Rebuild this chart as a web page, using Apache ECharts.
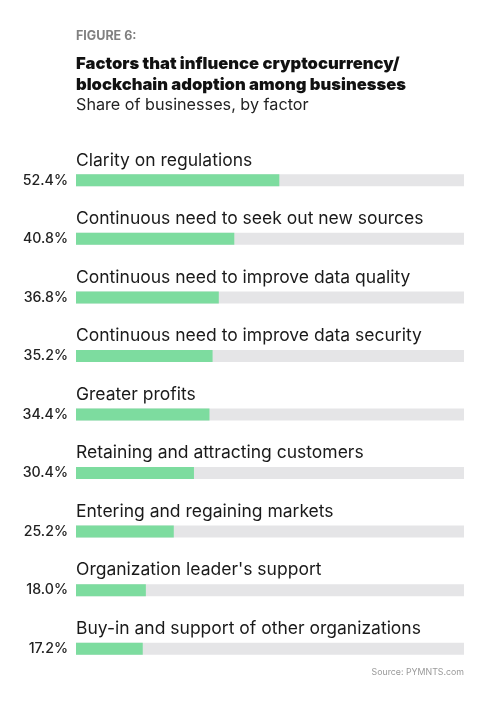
<!DOCTYPE html>
<html>
<head>
<meta charset="utf-8">
<script src="https://cdn.jsdelivr.net/npm/echarts@6/dist/echarts.min.js"></script>
<style>
  html, body { margin: 0; padding: 0; background: #fff; }
  #chart { width: 496px; height: 712px; }
</style>
</head>
<body>
<div id="chart"></div>
<script>
// factors, top to bottom
const factors = [
  "Clarity on regulations",
  "Continuous need to seek out new sources",
  "Continuous need to improve data quality",
  "Continuous need to improve data security",
  "Greater profits",
  "Retaining and attracting customers",
  "Entering and regaining markets",
  "Organization leader's support",
  "Buy-in and support of other organizations"
];
const shares = [52.4, 40.8, 36.8, 35.2, 34.4, 30.4, 25.2, 18.0, 17.2];

const font = "Inter, 'Noto Sans', sans-serif";

let chart = echarts.init(document.getElementById("chart"));
chart.setOption({
  backgroundColor: "#ffffff",
  animation: false,
  title: [
    {
      text: "FIGURE 6:",
      left: 76, top: 30, padding: 0,
      textStyle: { fontFamily: font, fontSize: 12.5, fontWeight: "bold", color: "#808080" }
    },
    {
      text: "Factors that influence cryptocurrency/\nblockchain adoption among businesses",
      left: 76, top: 53, padding: 0,
      textStyle: { fontFamily: font, fontSize: 16.6, fontWeight: 900, color: "#111", lineHeight: 21 }
    },
    {
      text: "Share of businesses, by factor",
      left: 76, top: 97, padding: 0,
      textStyle: { fontFamily: font, fontSize: 16.2, fontWeight: "normal", color: "#222" }
    },
    {
      text: "Source: PYMNTS.com",
      right: 32, top: 668, padding: 0,
      textStyle: { fontFamily: font, fontSize: 8.8, fontWeight: "normal", color: "#999" }
    }
  ],
  grid: { left: 76, right: 32, top: 151, bottom: 34 },
  xAxis: {
    type: "value", min: 0, max: 100,
    show: false
  },
  yAxis: {
    type: "category",
    data: factors,
    inverse: true,
    axisLine: { show: false },
    axisTick: { show: false },
    axisLabel: {
      margin: 8,
      fontFamily: font, fontSize: 14.2, fontWeight: 500, color: "#222",
      formatter: (v, i) => shares[i].toFixed(1) + "%"
    }
  },
  series: [{
    type: "bar",
    data: shares,
    barWidth: 12,
    itemStyle: { color: "#7ddc9f" },
    showBackground: true,
    backgroundStyle: { color: "#e5e5e7" },
    label: {
      show: true,
      position: [0, -23],
      fontFamily: font, fontSize: 17.5, color: "#1a1a1a",
      formatter: p => p.name
    }
  }]
});
</script>
</body>
</html>
